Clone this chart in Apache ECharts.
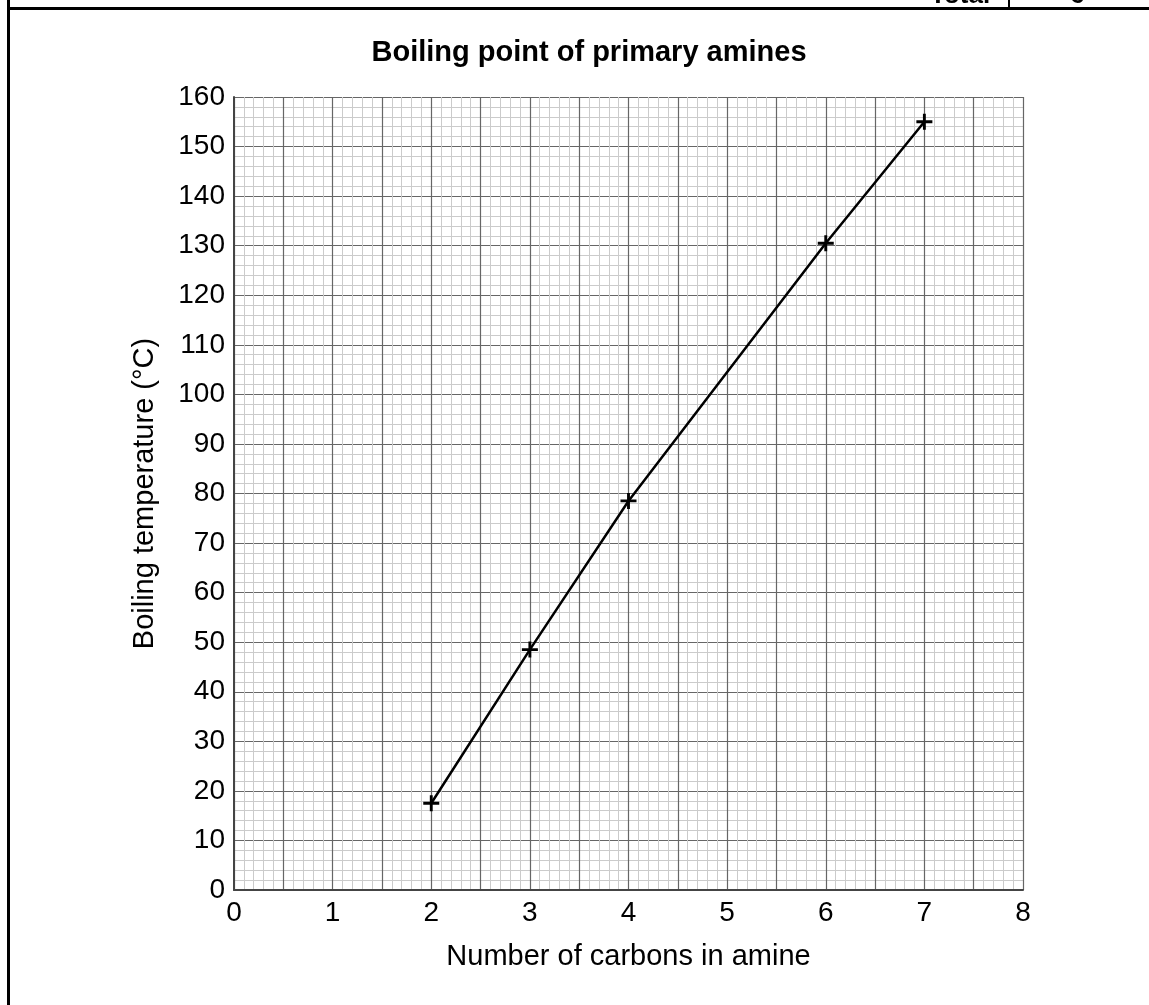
<!DOCTYPE html>
<html>
<head>
<meta charset="utf-8">
<script src="https://cdn.jsdelivr.net/npm/echarts@6/dist/echarts.min.js"></script>
<style>
html,body{margin:0;padding:0;background:#fff;}
#c{width:1149px;height:1005px;}
</style>
</head>
<body>
<div id="c"></div>
<script>
const titleText = 'Boiling point of primary amines';
const xName = 'Number of carbons in amine';
const yName = 'Boiling temperature (°C)';
const carbons = [2, 3, 4, 6, 7];
const boilingPoints = [17.5, 48.5, 78.5, 130.5, 155];
const xTicks = [0, 1, 2, 3, 4, 5, 6, 7, 8];

const F = 'Liberation Sans, Arial, sans-serif';
const chart = echarts.init(document.getElementById('c'), null, {renderer: 'canvas'});
const crossPath = 'path://M0,4.1 H10 V5.9 H0 Z M4.1,0 H5.9 V10 H4.1 Z';

chart.setOption({
  backgroundColor: '#fff',
  animation: false,
  title: {
    text: titleText, left: 584, top: 33, textAlign: 'center',
    textStyle: {fontFamily: F, fontWeight: 'bold', fontSize: 29, color: '#000'}
  },
  grid: {left: 234, right: 126, top: 97, bottom: 115, show: false},
  xAxis: {
    type: 'value', min: 0, max: 8, interval: 0.5,
    name: xName, nameLocation: 'middle', nameGap: 52,
    nameTextStyle: {fontFamily: F, fontSize: 29, color: '#000'},
    axisLine: {show: true, onZero: false, lineStyle: {color: '#444', width: 2}},
    axisTick: {show: false},
    axisLabel: {
      fontFamily: F, fontSize: 28, color: '#000', margin: 9,
      formatter: v => (xTicks.indexOf(v) >= 0 ? String(v) : '')
    },
    splitLine: {show: true, lineStyle: {color: '#666', width: 1.2}},
    minorTick: {show: false, splitNumber: 5},
    minorSplitLine: {show: true, lineStyle: {color: '#cbcbcb', width: 1}}
  },
  yAxis: {
    type: 'value', min: 0, max: 160, interval: 10,
    name: yName, nameLocation: 'middle', nameGap: 75, nameRotate: 90,
    nameTextStyle: {fontFamily: F, fontSize: 29, color: '#000'},
    axisLine: {show: true, onZero: false, lineStyle: {color: '#444', width: 2}},
    axisTick: {show: false},
    axisLabel: {fontFamily: F, fontSize: 28, color: '#000', margin: 9},
    splitLine: {show: true, lineStyle: {color: '#666', width: 1.2}},
    minorTick: {show: false, splitNumber: 5},
    minorSplitLine: {show: true, lineStyle: {color: '#cbcbcb', width: 1}}
  },
  series: [{
    type: 'line',
    data: carbons.map((c, i) => [c, boilingPoints[i]]),
    symbol: crossPath, symbolSize: 16,
    showAllSymbol: true,
    itemStyle: {color: '#000'},
    lineStyle: {color: '#000', width: 2.5},
    z: 5
  }],
  graphic: [
    {type: 'line', shape: {x1: 8.5, y1: 0, x2: 8.5, y2: 1005}, style: {stroke: '#000', lineWidth: 3}},
    {type: 'line', shape: {x1: 8, y1: 8.5, x2: 1149, y2: 8.5}, style: {stroke: '#000', lineWidth: 3}},
    {type: 'line', shape: {x1: 1009, y1: 0, x2: 1009, y2: 8}, style: {stroke: '#000', lineWidth: 2}},
    {type: 'text', left: 930, top: -17, style: {text: 'Total', font: 'bold 26px ' + F, fill: '#000'}},
    {type: 'text', left: 1070, top: -17, style: {text: '6', font: 'bold 26px ' + F, fill: '#000'}}
  ]
});
</script>
</body>
</html>
